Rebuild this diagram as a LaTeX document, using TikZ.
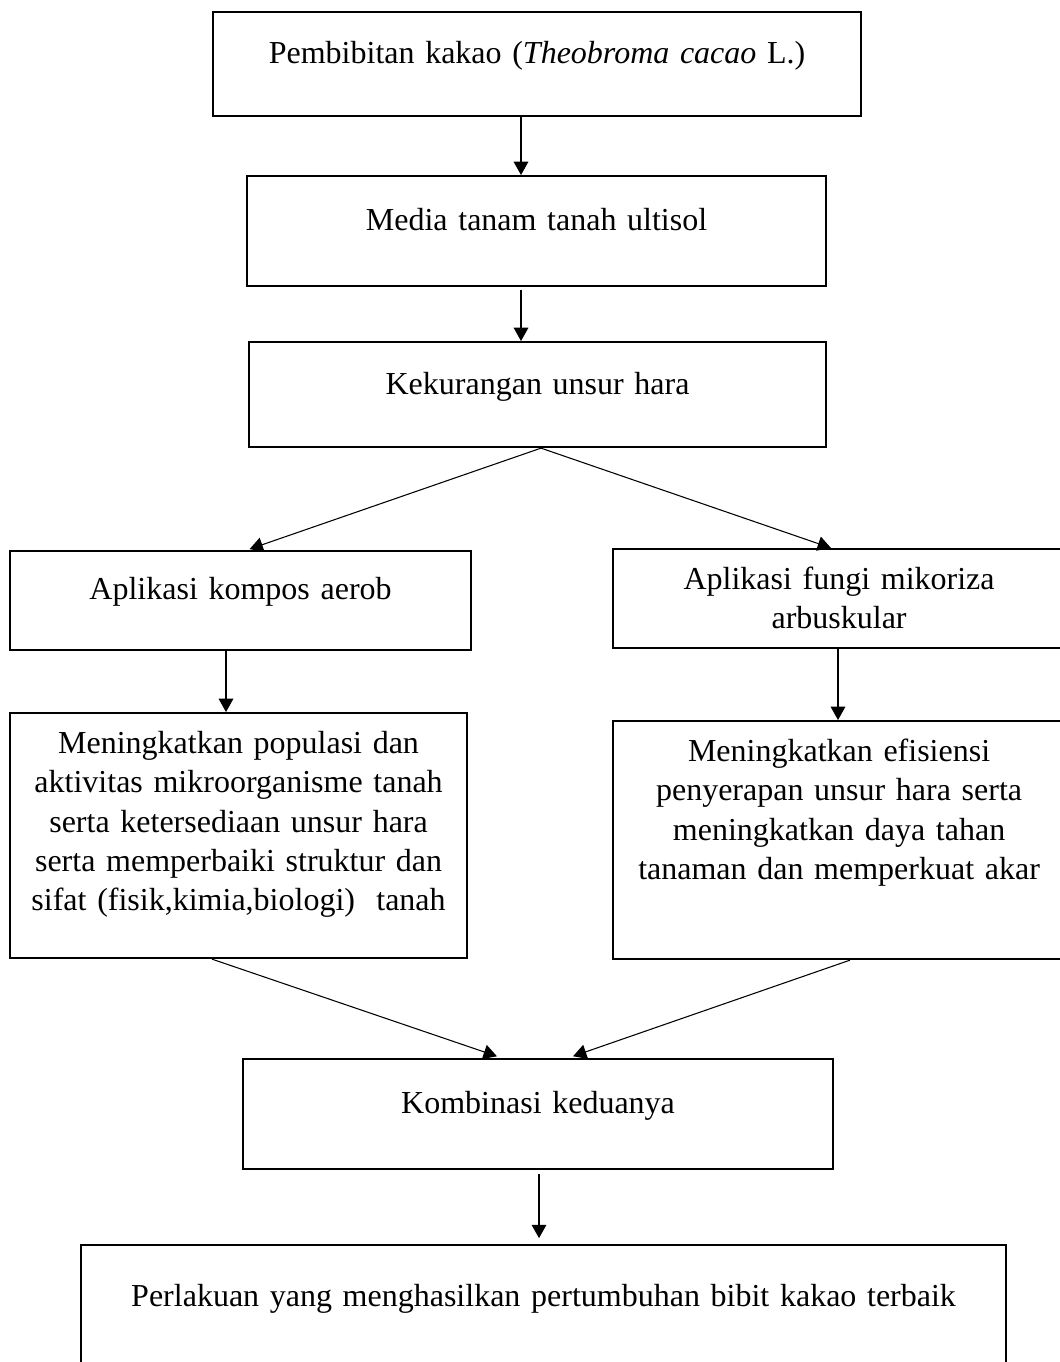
\documentclass[tikz,border=0pt]{standalone}
\usepackage{fontspec}
\setmainfont{Liberation Serif}
\usetikzlibrary{arrows.meta}
\AtBeginDocument{\fontsize{12}{14.8}\selectfont\fontdimen2\font=0.19em\relax}

\tikzset{
  kotak/.style n args={3}{draw, line width=0.8pt, inner sep=0pt, anchor=north west,
    align=center, text width=#1, text height=#2, text depth=#3},
  panah/.style={-{Triangle[length=5pt,width=5.5pt]}, line width=0.4pt}
}

\begin{document}
\begin{tikzpicture}[x=0.375pt, y=-0.375pt, font=\fontsize{12}{14.8}\selectfont]
  \useasboundingbox (0,0) rectangle (1059,1362);

  \node[kotak={243pt}{19.125pt}{19.875pt}] (bibit) at (212,11) {Pembibitan kakao (\textit{Theobroma cacao} L.)};
  \node[kotak={217.125pt}{20.25pt}{21pt}] (media) at (246,175) {Media tanam tanah ultisol};
  \node[kotak={216.375pt}{19.5pt}{19.875pt}] (hara) at (248,341) {Kekurangan unsur hara};
  \node[kotak={172.875pt}{18pt}{19.125pt}] (kompos) at (9,550) {Aplikasi kompos aerob};
  \node[kotak={169.5pt}{15pt}{22.125pt}] (fma) at (612,548) {Aplikasi fungi mikoriza\\arbuskular};
  \node[kotak={171.375pt}{15pt}{76.875pt}] (populasi) at (9,712) {Meningkatkan populasi dan\\aktivitas mikroorganisme tanah\\serta ketersediaan unsur hara\\serta memperbaiki struktur dan\\sifat (fisik,kimia,biologi)\ \ tanah};
  \node[kotak={169.5pt}{15pt}{74.25pt}] (efisiensi) at (612,720) {Meningkatkan efisiensi\\penyerapan unsur hara serta\\meningkatkan daya tahan\\tanaman dan memperkuat akar};
  \node[kotak={221.25pt}{20.25pt}{21pt}] (kombinasi) at (242,1058) {Kombinasi keduanya};
  \node[kotak={346.875pt}{22.875pt}{37.125pt}] (perlakuan) at (80,1244) {Perlakuan yang menghasilkan pertumbuhan bibit kakao terbaik};

  % alur
  \path[panah] (bibit.south -| 521,0) edge (media.north -| 521,0);
  \path[panah] (media.south -| 521,0) edge [shorten <=1pt] (hara.north -| 521,0);
  \path[panah] (hara.south -| 541,0) edge [shorten >=1pt] (kompos.north -| 247,0);
  \path[panah] (hara.south -| 541,0) edge (fma.north -| 831,0);
  \path[panah] (kompos.south -| 226,0) edge (populasi.north -| 226,0);
  \path[panah] (fma.south -| 838,0) edge (efisiensi.north -| 838,0);
  \path[panah] (populasi.south -| 212,0) edge [shorten >=2pt] (kombinasi.north -| 502,0);
  \path[panah] (efisiensi.south -| 850,0) edge [shorten >=2pt] (kombinasi.north -| 568,0);
  \path[panah] (kombinasi.south -| 539,0) edge [shorten <=1.5pt, shorten >=2.2pt] (perlakuan.north -| 539,0);
\end{tikzpicture}
\end{document}
